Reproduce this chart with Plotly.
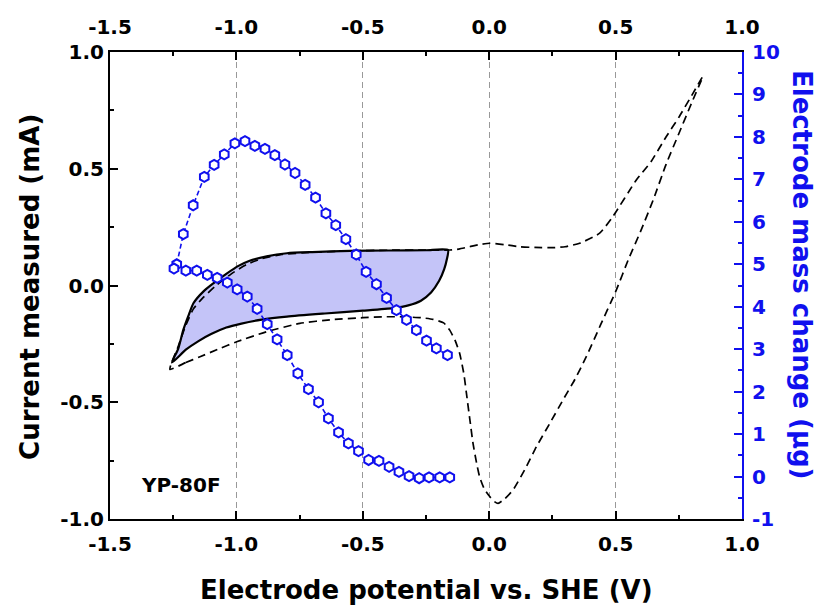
import plotly.graph_objects as go

# ---------------- data ----------------
# Shaded CV loop (narrow window), potential (V) and current (mA)
cv_in_x = [-1.255, -1.23, -1.21, -1.19, -1.17, -1.13, -1.09, -1.04, -0.99, -0.95, -0.88, -0.80,
           -0.70, -0.55, -0.40, -0.25, -0.163,
           -0.168, -0.178, -0.198, -0.23, -0.27, -0.32, -0.38, -0.50, -0.65, -0.80, -0.90,
           -0.98, -1.04, -1.10, -1.15, -1.20, -1.255]
cv_in_y = [-0.33, -0.27, -0.19, -0.13, -0.076, -0.025, 0.01, 0.05, 0.085, 0.105, 0.125, 0.138,
           0.143, 0.148, 0.150, 0.151, 0.152,
           0.11, 0.07, 0.02, -0.03, -0.065, -0.085, -0.097, -0.108, -0.12, -0.133, -0.146,
           -0.163, -0.18, -0.208, -0.238, -0.275, -0.33]

# Dashed CV loop (wide window)
cv_out_x = [-1.263, -1.20, -1.144, -1.07, -0.999, -0.881, -0.749, -0.62, -0.499, -0.42, -0.341,
            -0.27, -0.222, -0.18, -0.156, -0.135, -0.117, -0.10, -0.09, -0.077, -0.064, -0.05,
            -0.038, -0.02, 0.002, 0.02, 0.035, 0.06, 0.094, 0.14, 0.187, 0.24, 0.292, 0.34,
            0.384, 0.44, 0.503, 0.55, 0.60, 0.65, 0.70, 0.75, 0.80, 0.845,
            0.806, 0.75, 0.70, 0.64, 0.582, 0.489, 0.437, 0.358, 0.30, 0.252, 0.18, 0.121,
            0.06, 0.002, -0.04, -0.077, -0.12, -0.156, -0.25, -0.40, -0.55, -0.70, -0.82,
            -0.90, -0.96, -1.02, -1.08, -1.13, -1.17, -1.20, -1.23, -1.263]
cv_out_y = [-0.359, -0.33, -0.305, -0.272, -0.241, -0.198, -0.162, -0.146, -0.138, -0.134, -0.134,
            -0.138, -0.145, -0.16, -0.191, -0.235, -0.29, -0.38, -0.462, -0.57, -0.676, -0.76,
            -0.819, -0.87, -0.904, -0.925, -0.933, -0.915, -0.876, -0.79, -0.69, -0.59, -0.49, -0.40,
            -0.305, -0.17, -0.019, 0.11, 0.235, 0.37, 0.52, 0.65, 0.78, 0.895,
            0.823, 0.72, 0.637, 0.53, 0.452, 0.295, 0.224, 0.181, 0.166, 0.162, 0.163, 0.166,
            0.175, 0.181, 0.175, 0.166, 0.156, 0.152, 0.152, 0.151, 0.148, 0.142, 0.133,
            0.115, 0.09, 0.05, 0.0, -0.05, -0.10, -0.17, -0.26, -0.359]

# Electrode mass change (ug)
mass_x = [-1.236, -1.210, -1.171, -1.127, -1.088, -1.048, -1.006, -0.966, -0.927, -0.887,
          -0.848, -0.808, -0.768, -0.728, -0.687, -0.646, -0.607, -0.567, -0.526, -0.487,
          -0.446, -0.406, -0.367, -0.327, -0.288, -0.248, -0.209, -0.165]
mass_y = [5.00, 5.71, 6.39, 7.06, 7.34, 7.59, 7.85, 7.90, 7.79, 7.72,
          7.57, 7.35, 7.15, 6.87, 6.57, 6.20, 5.92, 5.59, 5.23, 4.82,
          4.53, 4.21, 3.92, 3.69, 3.45, 3.20, 3.02, 2.86]
mass2_x = [-1.247, -1.200, -1.157, -1.115, -1.076, -1.036, -0.997, -0.957, -0.918, -0.878,
           -0.839, -0.799, -0.757, -0.715, -0.675, -0.636, -0.596, -0.557, -0.517, -0.477,
           -0.436, -0.396, -0.357, -0.317, -0.277, -0.238, -0.196, -0.156]
mass2_y = [4.90, 4.85, 4.85, 4.75, 4.68, 4.57, 4.41, 4.24, 3.95, 3.59,
           3.23, 2.86, 2.43, 2.06, 1.75, 1.37, 1.04, 0.78, 0.60, 0.39,
           0.37, 0.23, 0.11, 0.01, -0.04, -0.02, -0.02, -0.02]

x_ticks = [-1.5, -1.0, -0.5, 0.0, 0.5, 1.0]
x_ticklabels = ["-1.5", "-1.0", "-0.5", "0.0", "0.5", "1.0"]
y_ticks = [-1.0, -0.5, 0.0, 0.5, 1.0]
y_ticklabels = ["-1.0", "-0.5", "0.0", "0.5", "1.0"]
y2_ticks = list(range(-1, 11))
y2_ticklabels = [str(v) for v in y2_ticks]

# ---------------- styling ----------------
FONT = "DejaVu Sans"
BLUE = "#1010ee"
tickfont = dict(family=FONT, size=20, color="black", weight="bold")

fig = go.Figure()

fig.add_trace(go.Scatter(x=cv_in_x, y=cv_in_y, mode="lines", fill="toself",
                         fillcolor="rgb(196,196,248)",
                         line=dict(color="black", width=2.2, shape="spline", smoothing=0.6),
                         showlegend=False, hoverinfo="skip"))
fig.add_trace(go.Scatter(x=cv_out_x, y=cv_out_y, mode="lines",
                         line=dict(color="black", width=1.7, dash="8px,5px", shape="spline", smoothing=0.5),
                         showlegend=False, hoverinfo="skip"))
# invisible trace for top axis
fig.add_trace(go.Scatter(x=[-1.5, 1.0], y=[None, None], xaxis="x2", yaxis="y",
                         mode="lines", showlegend=False, hoverinfo="skip"))

for mx, my in [(mass_x, mass_y), (mass2_x, mass2_y)]:
    fig.add_trace(go.Scatter(x=mx, y=my, xaxis="x", yaxis="y2", mode="lines+markers",
                             line=dict(color=BLUE, width=1.6, dash="5px,3px"),
                             marker=dict(symbol="hexagon", size=10, color="white",
                                         line=dict(color=BLUE, width=2)),
                             showlegend=False, hoverinfo="skip"))

fig.update_layout(
    width=819, height=606,
    margin=dict(l=110, r=77, t=52, b=87),
    paper_bgcolor="white", plot_bgcolor="white",
    xaxis=dict(range=[-1.5, 1.0], tickvals=x_ticks, ticktext=x_ticklabels,
               ticks="inside", ticklen=8, tickwidth=1.5, tickcolor="black",
               minor=dict(ticks="inside", ticklen=4, dtick=0.25, tickcolor="black", tickwidth=1.5, showgrid=False),
               showline=True, linecolor="black", linewidth=2, mirror=False,
               showgrid=True, gridcolor="#999999", griddash="6px,4px", gridwidth=1,
               zeroline=False, tickfont=tickfont, ticklabelstandoff=6),
    xaxis2=dict(range=[-1.5, 1.0], overlaying="x", side="top", matches="x",
                tickvals=x_ticks, ticktext=x_ticklabels,
                ticks="inside", ticklen=8, tickwidth=1.5, tickcolor="black",
                minor=dict(ticks="inside", ticklen=4, dtick=0.25, tickcolor="black", tickwidth=1.5),
                showline=True, linecolor="black", linewidth=2,
                showgrid=False, zeroline=False, tickfont=tickfont, ticklabelstandoff=8),
    yaxis=dict(range=[-1.0, 1.0], tickvals=y_ticks, ticktext=y_ticklabels,
               ticks="inside", ticklen=8, tickwidth=1.5, tickcolor="black",
               minor=dict(ticks="inside", ticklen=4, dtick=0.25, tickcolor="black", tickwidth=1.5),
               showline=True, linecolor="black", linewidth=2,
               showgrid=False, zeroline=False, tickfont=tickfont),
    yaxis2=dict(range=[-1, 10], overlaying="y", side="right",
                tickvals=y2_ticks, ticktext=y2_ticklabels,
                ticks="inside", ticklen=8, tickwidth=1.5, tickcolor=BLUE,
                minor=dict(ticks="inside", ticklen=4, dtick=0.5, tickcolor=BLUE, tickwidth=1.5),
                showline=True, linecolor=BLUE, linewidth=2,
                showgrid=False, zeroline=False, ticklabelstandoff=4,
                tickfont=dict(family=FONT, size=20, color=BLUE, weight="bold")),
)

titlefont = dict(family=FONT, size=26, color="black", weight="bold")
fig.add_annotation(text="Electrode potential vs. SHE (V)", xref="paper", yref="paper",
                   x=0.5, y=-0.152, xanchor="center", yanchor="middle",
                   showarrow=False, font=titlefont)
fig.add_annotation(text="Current measured (mA)", xref="paper", yref="paper",
                   x=-0.1266, y=0.497, xanchor="center", yanchor="middle", textangle=-90,
                   showarrow=False, font=titlefont)
fig.add_annotation(text="Electrode mass change (μg)", xref="paper", yref="paper",
                   x=1.095, y=0.5225, xanchor="center", yanchor="middle", textangle=90,
                   showarrow=False, font=dict(family=FONT, size=26, color=BLUE, weight="bold"))
fig.add_annotation(text="YP-80F", xref="x", yref="y",
                   x=-1.22, y=-0.855, xanchor="center", yanchor="middle",
                   showarrow=False, font=dict(family=FONT, size=20, color="black", weight="bold"))

fig.write_html("out.html")
